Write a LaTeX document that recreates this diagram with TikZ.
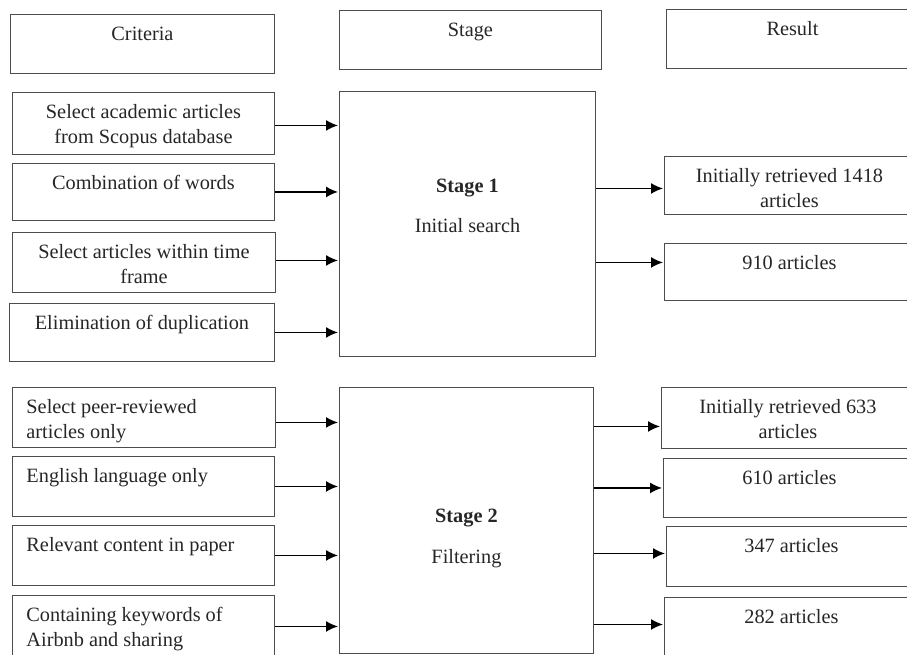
\documentclass[tikz,border=0pt]{standalone}
\usepackage{fontspec}
\setmainfont{Liberation Serif}
\usetikzlibrary{arrows.meta}
\usetikzlibrary{positioning}
\newcommand{\boxtext}[4]{\parbox[b][#2][t]{#1}{#3\vspace*{9pt}\strut#4}}
\tikzset{
    cbox/.style={draw=black!70, line width=0.9pt, inner sep=0pt, anchor=north west,
        text=black!85, font=\fontsize{20.3}{25}\selectfont},
    link/.style={draw=black, line width=1.6pt, shorten >=1pt,
        -{Latex[length=12pt,width=11pt]}},
}
\begin{document}
\begin{tikzpicture}[x=1pt,y=-1pt]
	\useasboundingbox (0,0) rectangle (907,655);
	\clip (0,0) rectangle (907,655);
	% headers
	\node[cbox] (crit) at (10,14) {\boxtext{264pt}{59pt}{\centering}{Criteria}};
	\node[cbox] (stage) at (339,10) {\boxtext{262pt}{59pt}{\centering}{Stage}};
	\node[cbox] (result) at (666,9) {\boxtext{252pt}{59pt}{\centering}{Result}};
	% stage 1
	\node[cbox] (c1) at (12,92) {\boxtext{262pt}{62pt}{\centering}{Select academic articles\\from Scopus database}};
	\node[cbox] (c2) at (12,163) {\boxtext{262pt}{57pt}{\centering}{Combination of words}};
	\node[cbox] (c3) at (12,232) {\boxtext{263pt}{60pt}{\centering}{Select articles within time\\frame}};
	\node[cbox] (c4) at (9,303) {\boxtext{265pt}{58pt}{\centering}{Elimination of duplication}};
	\node[cbox] (s1) at (339,91) {\boxtext{256pt}{265pt}{\centering\vspace*{74.5pt}}{\textbf{Stage 1}\\[15pt]Initial search}};
	\node[cbox] (r1) at (664,156) {\boxtext{250pt}{58pt}{\centering}{Initially retrieved 1418\\articles}};
	\node[cbox] (r2) at (664,243) {\boxtext{250pt}{57pt}{\centering}{910 articles}};
	% stage 2
	\node[cbox] (c5) at (12,387) {\boxtext{263pt}{60pt}{\raggedright\leftskip=14pt}{Select peer-reviewed\\articles only}};
	\node[cbox] (c6) at (12,456) {\boxtext{262pt}{60pt}{\raggedright\leftskip=14pt}{English language only}};
	\node[cbox] (c7) at (12,525) {\boxtext{262pt}{60pt}{\raggedright\leftskip=14pt}{Relevant content in paper}};
	\node[cbox] (c8) at (12,595) {\boxtext{262pt}{62pt}{\raggedright\leftskip=14pt}{Containing keywords of\\Airbnb and sharing}};
	\node[cbox] (s2) at (339,387) {\boxtext{254pt}{266pt}{\centering\vspace*{108.5pt}}{\textbf{Stage 2}\\[16pt]Filtering}};
	\node[cbox] (r3) at (661,387) {\boxtext{253pt}{61pt}{\centering}{Initially retrieved 633\\articles}};
	\node[cbox] (r4) at (663,458) {\boxtext{252pt}{59pt}{\centering}{610 articles}};
	\node[cbox] (r5) at (666,526) {\boxtext{250pt}{60pt}{\centering}{347 articles}};
	\node[cbox] (r6) at (664,597) {\boxtext{254pt}{62pt}{\centering}{282 articles}};
	% criteria to stage
	\draw[link] ([yshift=-2pt]c1.east) -- ([yshift=-2pt]c1.east -| s1.west);
	\draw[link] (c2.east) -- (c2.east -| s1.west);
	\draw[link] ([yshift=2pt]c3.east) -- ([yshift=2pt]c3.east -| s1.west);
	\draw[link] (c4.east) -- (c4.east -| s1.west);
	\draw[link] ([yshift=-5pt]c5.east) -- ([yshift=-5pt]c5.east -| s2.west);
	\draw[link] (c6.east) -- (c6.east -| s2.west);
	\draw[link] (c7.east) -- (c7.east -| s2.west);
	\draw[link] (c8.east) -- (c8.east -| s2.west);
	% stage to result
	\draw[link] ([yshift=-3pt]r1.west -| s1.east) -- ([yshift=-3pt]r1.west);
	\draw[link] ([yshift=9.5pt]r2.west -| s1.east) -- ([yshift=9.5pt]r2.west);
	\draw[link] ([yshift=-8.5pt]r3.west -| s2.east) -- ([yshift=-8.5pt]r3.west);
	\draw[link] (r4.west -| s2.east) -- (r4.west);
	\draw[link] ([yshift=3pt]r5.west -| s2.east) -- ([yshift=3pt]r5.west);
	\draw[link] ([yshift=4pt]r6.west -| s2.east) -- ([yshift=4pt]r6.west);
\end{tikzpicture}
\end{document}
